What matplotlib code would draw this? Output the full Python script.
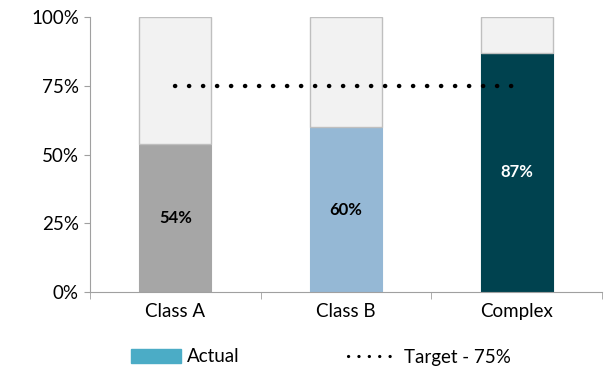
import matplotlib.pyplot as plt
import matplotlib.patches as mpatches
from matplotlib.lines import Line2D
import numpy as np

plt.rcParams['font.family'] = ['Lato', 'DejaVu Sans']

# Data
categories = ['Class A', 'Class B', 'Complex']
actual = [54, 60, 87]
target = 75
bar_colors = ['#a6a6a6', '#95b8d5', '#00424f']
label_colors = ['black', 'black', 'white']

fig = plt.figure(figsize=(6.1, 3.7), dpi=100)
ax = fig.add_axes([90 / 610, 1 - 292 / 370, 512 / 610, 275 / 370])

x = np.arange(len(categories))
remainder = [100 - v for v in actual]
width = 0.42

ax.bar(x, actual, width=width, color=bar_colors, edgecolor=bar_colors, linewidth=0.8, zorder=2)
ax.bar(x, remainder, width=width, bottom=actual, color='#f2f2f2', edgecolor='#bfbfbf',
       linewidth=1, zorder=2)

for xi, v, c in zip(x, actual, label_colors):
    ax.text(xi, v / 2, f'{v}%', ha='center', va='center', fontsize=12,
            fontweight='bold', color=c, zorder=4)

# Target line
ax.plot([x[0], x[-1]], [target, target], color='black', linewidth=3.2,
        linestyle=(0, (0.05, 3.1)), dash_capstyle='round', zorder=3)

ax.set_xlim(-0.5, len(categories) - 0.5)
ax.set_ylim(0, 100)
ax.set_yticks([0, 25, 50, 75, 100])
ax.set_yticklabels([f'{t}%' for t in [0, 25, 50, 75, 100]], fontsize=13.5)

ax.set_xticks(x)
ax.set_xticklabels(categories, fontsize=13.5)
ax.tick_params(axis='x', length=0, pad=8)
ax.set_xticks(np.arange(-0.5, len(categories), 1), minor=True)
ax.tick_params(axis='x', which='minor', length=5, color='#a0a0a0')
ax.tick_params(axis='y', length=4, color='#a0a0a0', pad=4)

for s in ['top', 'right']:
    ax.spines[s].set_visible(False)
for s in ['left', 'bottom']:
    ax.spines[s].set_color('#a0a0a0')

handles = [mpatches.Patch(color='#4bacc6', label='Actual'),
           Line2D([0], [0], color='black', linewidth=2.3, linestyle=(0, (0.05, 3.2)),
                  dash_capstyle='round', label='Target - 75%')]
fig.legend(handles=handles, loc='center', bbox_to_anchor=(321 / 610, 1 - 357 / 370), ncol=2,
           frameon=False, fontsize=13.5, handlelength=2.7, handleheight=0.75,
           columnspacing=5.8, handletextpad=0.3)

fig.savefig('out.png', dpi=100)
